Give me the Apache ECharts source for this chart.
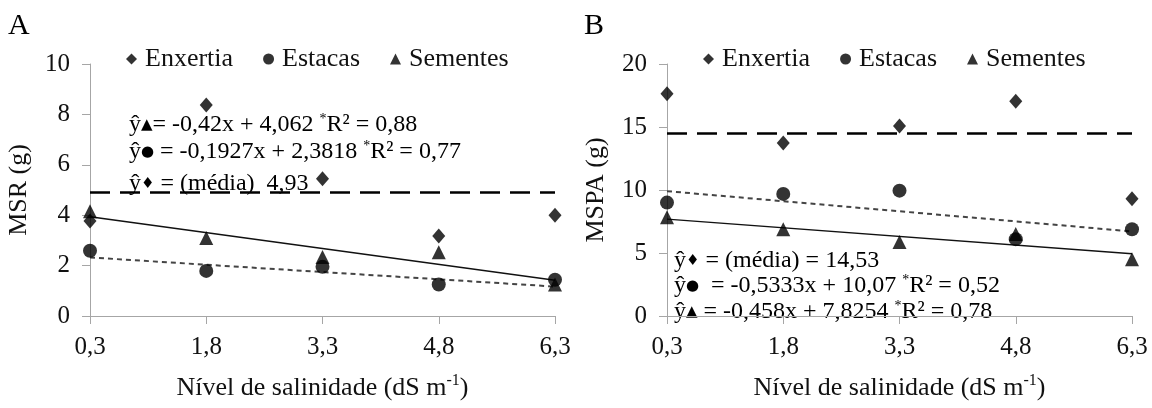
<!DOCTYPE html>
<html>
<head>
<meta charset="utf-8">
<script src="https://cdn.jsdelivr.net/npm/echarts@6/dist/echarts.min.js"></script>
<style>
  html, body { margin: 0; padding: 0; background: #fff; }
  #chart { width: 1152px; height: 408px; }
</style>
</head>
<body>
<div id="chart"></div>
<script>
// Salinity levels of the irrigation water (dS m-1)
const salinity = [0.3, 1.8, 3.3, 4.8, 6.3];
const salinityLabels = ['0,3', '1,8', '3,3', '4,8', '6,3'];

// Panel A: root dry mass, MSR (g)
const enxertiaMSR = [3.77, 8.37, 5.45, 3.17, 4.0];
const estacasMSR  = [2.59, 1.79, 1.95, 1.25, 1.44];
const sementesMSR = [4.16, 3.10, 2.34, 2.53, 1.25];

// Panel B: shoot dry mass, MSPA (g)
const enxertiaMSPA = [17.64, 13.74, 15.08, 17.05, 9.3];
const estacasMSPA  = [9.0, 9.69, 9.95, 6.1, 6.89];
const sementesMSPA = [7.83, 6.89, 5.88, 6.5, 4.5];

// Fitted models as printed on each panel: [slope, intercept] and mean values
const fitSementesMSR = [-0.42, 4.062];
const fitEstacasMSR  = [-0.1927, 2.3818];
const meanEnxertiaMSR = 4.93;
const fitEstacasMSPA  = [-0.5333, 10.07];
const fitSementesMSPA = [-0.458, 7.8254];
const meanEnxertiaMSPA = 14.53;

const FONT = "'Liberation Serif', 'Times New Roman', serif";
const SYM = "'DejaVu Sans', sans-serif";
const AXIS_GRAY = '#a6a6a6';
const INK = '#111';

function pairs(values) {
  return values.map((v, i) => [salinityLabels[i], v]);
}
// Straight regression line between the first and last salinity level
function fitted(coef) {
  const last = salinity.length - 1;
  return [
    [salinityLabels[0], coef[0] * salinity[0] + coef[1]],
    [salinityLabels[last], coef[0] * salinity[last] + coef[1]]
  ];
}

const grids = [
  { left: 90, top: 64, width: 465, height: 262 },
  { left: 667, top: 64, width: 465, height: 262 }
];

function xAxis(gridIndex) {
  return {
    type: 'category', gridIndex, data: salinityLabels, boundaryGap: false,
    axisLine: { lineStyle: { color: AXIS_GRAY, width: 1 } },
    axisTick: { show: true, length: 8, alignWithLabel: true, lineStyle: { color: AXIS_GRAY } },
    axisLabel: { color: INK, fontFamily: FONT, fontSize: 25, margin: 19 },
    splitLine: { show: false },
    name: 'Nível de salinidade (dS m{sup|-1})',
    nameLocation: 'middle', nameGap: 57,
    nameTextStyle: {
      color: INK, fontFamily: FONT, fontSize: 26, lineHeight: 30,
      rich: { sup: { fontFamily: FONT, fontSize: 16, verticalAlign: 'top', lineHeight: 30, color: INK } }
    }
  };
}
function yAxis(gridIndex, max, interval, name) {
  return {
    type: 'value', gridIndex, min: 0, max, interval,
    axisLine: { show: true, lineStyle: { color: AXIS_GRAY, width: 1 } },
    axisTick: { show: true, length: 8, lineStyle: { color: AXIS_GRAY } },
    axisLabel: { color: INK, fontFamily: FONT, fontSize: 25, margin: 20 },
    splitLine: { show: false },
    name, nameLocation: 'middle', nameGap: 58,
    nameTextStyle: { color: INK, fontFamily: FONT, fontSize: 26 }
  };
}

function panelSeries(idx, enx, est, sem, fitSolid, fitDotted, mean) {
  const base = { xAxisIndex: idx, yAxisIndex: idx, clip: false };
  return [
    Object.assign({}, base, {
      name: 'Enxertia', type: 'scatter', data: pairs(enx),
      symbol: 'diamond', symbolSize: [13, 15], itemStyle: { color: '#000' }, z: 4,
      markLine: {
        silent: true, symbol: 'none', label: { show: false },
        lineStyle: { color: '#000', width: 2.5, type: [20, 10] },
        data: [{ yAxis: mean }]
      }
    }),
    Object.assign({}, base, {
      name: 'Estacas', type: 'scatter', data: pairs(est),
      symbol: 'circle', symbolSize: 14, itemStyle: { color: '#000' }, z: 4
    }),
    Object.assign({}, base, {
      name: 'Sementes', type: 'scatter', data: pairs(sem),
      symbol: 'triangle', symbolSize: 14, itemStyle: { color: '#000' }, z: 4
    }),
    Object.assign({}, base, {
      name: 'fit-solid-' + idx, type: 'line', data: fitted(fitSolid),
      symbol: 'none', lineStyle: { color: '#111', width: 1.4, type: 'solid' }, z: 3
    }),
    Object.assign({}, base, {
      name: 'fit-dotted-' + idx, type: 'line', data: fitted(fitDotted),
      symbol: 'none', lineStyle: { color: '#444', width: 2, type: [5, 4] }, z: 3
    })
  ];
}

function legend(left) {
  return {
    left, top: 46, padding: 0, itemGap: 30, itemWidth: 11, itemHeight: 11,
    selectedMode: false,
    data: [
      { name: 'Enxertia', icon: 'diamond' },
      { name: 'Estacas', icon: 'circle' },
      { name: 'Sementes', icon: 'triangle' }
    ],
    textStyle: { color: INK, fontFamily: FONT, fontSize: 26, padding: [0, 0, 0, 3] }
  };
}

const eqRich = {
  s: { fontFamily: SYM, fontSize: 15, color: '#000' },
  p: { fontFamily: FONT, fontSize: 14, verticalAlign: 'top', lineHeight: 26, color: '#000' }
};
function eqText(x, y, text) {
  return {
    type: 'text', left: x, top: y,
    style: { text, fontFamily: FONT, fontSize: 24, lineHeight: 26, fill: '#000', rich: eqRich }
  };
}

const option = {
  animation: false,
  backgroundColor: '#fff',
  grid: grids,
  xAxis: [xAxis(0), xAxis(1)],
  yAxis: [yAxis(0, 10, 2, 'MSR (g)'), yAxis(1, 20, 5, 'MSPA (g)')],
  legend: [legend(126), legend(703)],
  series: [].concat(
    panelSeries(0, enxertiaMSR, estacasMSR, sementesMSR, fitSementesMSR, fitEstacasMSR, meanEnxertiaMSR),
    panelSeries(1, enxertiaMSPA, estacasMSPA, sementesMSPA, fitSementesMSPA, fitEstacasMSPA, meanEnxertiaMSPA)
  ),
  graphic: [
    { type: 'text', left: 8, top: 11, style: { text: 'A', fontFamily: FONT, fontSize: 30, fill: '#000' } },
    { type: 'text', left: 584, top: 11, style: { text: 'B', fontFamily: FONT, fontSize: 30, fill: '#000' } },
    eqText(129, 112, 'ŷ{s|▲}= -0,42x + 4,062 {p|*}R² = 0,88'),
    eqText(129, 139, 'ŷ{s|●} = -0,1927x + 2,3818 {p|*}R² = 0,77'),
    eqText(129, 171, 'ŷ{s|♦} = (média)  4,93'),
    eqText(674, 248, 'ŷ{s|♦} = (média) = 14,53'),
    eqText(674, 273, 'ŷ{s|●}  = -0,5333x + 10,07 {p|*}R² = 0,52'),
    eqText(674, 299, 'ŷ{s|▲} = -0,458x + 7,8254 {p|*}R² = 0,78')
  ]
};

const chart = echarts.init(document.getElementById('chart'), null, { renderer: 'canvas' });
chart.setOption(option);
</script>
</body>
</html>
